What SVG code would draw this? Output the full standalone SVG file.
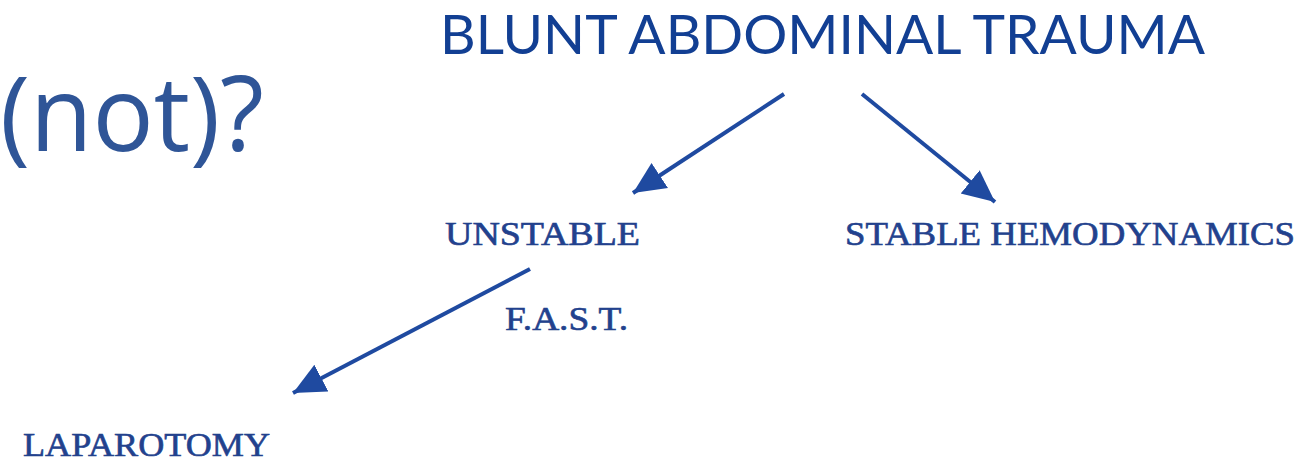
<svg xmlns="http://www.w3.org/2000/svg" width="1304" height="468" viewBox="0 0 1304 468">
  <style>
    .title { font-family: Lato, "Open Sans", "Liberation Sans", sans-serif; fill: #123f93; }
    .big { font-family: "Open Sans", "Liberation Sans", sans-serif; fill: #2f5597; }
    .lbl { font-family: "Liberation Serif", "DejaVu Serif", serif; fill: #22418d; stroke: #22418d; stroke-width: 0.6; font-size: 33px; }
    .conn { stroke: #1f4aa0; stroke-width: 4; fill: none; }
  </style>
  <defs>
    <marker id="ah" markerUnits="userSpaceOnUse" markerWidth="34" markerHeight="32" refX="32" refY="16" orient="auto">
      <path d="M0,1 L32,16 L0,31 Z" fill="#1f4aa0"/>
    </marker>
  </defs>
  <rect width="1304" height="468" fill="#ffffff"/>
  <g id="heading">
    <text class="big" x="0" y="151" font-size="104" textLength="264" lengthAdjust="spacingAndGlyphs">(not)?</text>
  </g>
  <g id="node-blunt">
    <text class="title" x="440" y="54" font-size="54" textLength="765" lengthAdjust="spacingAndGlyphs">BLUNT ABDOMINAL TRAUMA</text>
  </g>
  <g id="node-unstable">
    <text class="lbl" x="445" y="245" textLength="195" lengthAdjust="spacingAndGlyphs">UNSTABLE</text>
  </g>
  <g id="node-stable">
    <text class="lbl" x="845" y="245" textLength="450" lengthAdjust="spacingAndGlyphs">STABLE HEMODYNAMICS</text>
  </g>
  <g id="node-fast">
    <text class="lbl" x="505" y="330" textLength="123" lengthAdjust="spacingAndGlyphs">F.A.S.T.</text>
  </g>
  <g id="node-laparotomy">
    <text class="lbl" x="23" y="456" textLength="247" lengthAdjust="spacingAndGlyphs">LAPAROTOMY</text>
  </g>
  <g id="connectors">
    <line class="conn" x1="784" y1="94" x2="633" y2="193" marker-end="url(#ah)"/>
    <line class="conn" x1="862" y1="94" x2="995" y2="202" marker-end="url(#ah)"/>
    <line class="conn" x1="530" y1="269" x2="293" y2="393" marker-end="url(#ah)"/>
  </g>
</svg>
